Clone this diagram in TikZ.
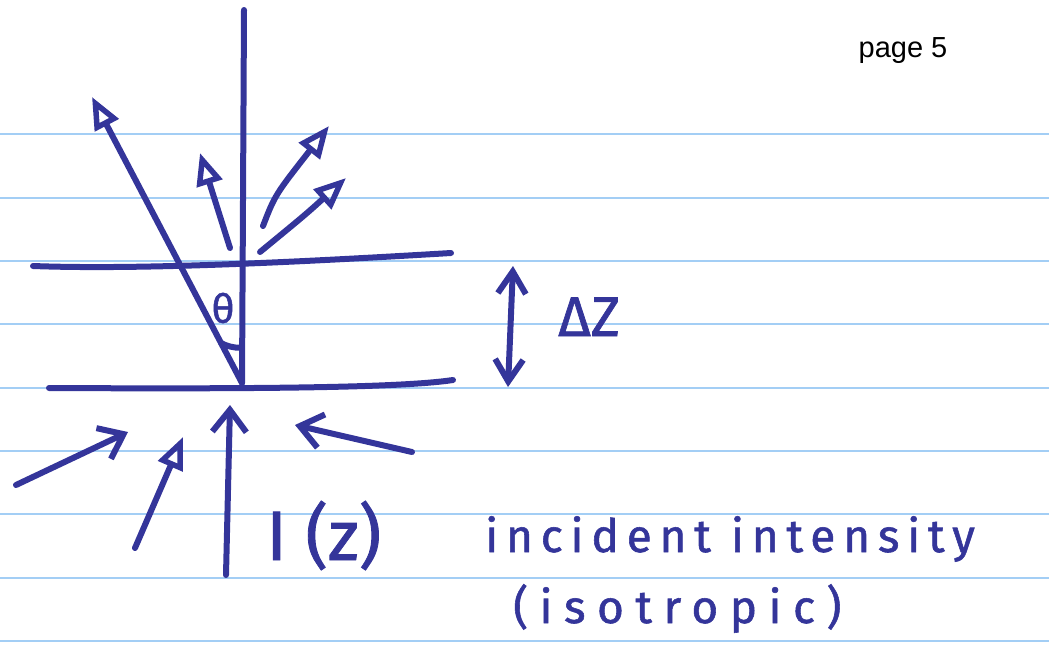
\documentclass[tikz,border=0pt]{standalone}
\usepackage{fontspec}
\setmainfont{Fira Sans}[FakeBold=1.2]
\newfontfamily\typed{Liberation Sans}
\usetikzlibrary{arrows.meta}
\definecolor{ink}{HTML}{34359A}
\definecolor{rule}{HTML}{A3CEF5}
\tikzset{
  ruled/.style={draw=rule, line width=2pt},
  pen/.style={draw=ink, line width=6pt, line cap=round, line join=round},
  ray/.style={pen, -{Triangle[open, length=32pt, width=26pt, line width=5.5pt]}},
  barb/.style={pen, -{Straight Barb[length=22pt, width=34pt]}},
  dbarb/.style={pen, {Straight Barb[length=22pt, width=28pt]}-{Straight Barb[length=22pt, width=28pt]}},
  hand/.style={text=ink, inner sep=0pt},
}
\begin{document}
\begin{tikzpicture}[x=1pt, y=-1pt]
  \useasboundingbox (0,0) rectangle (1049,648);
  % ruled paper
  \foreach \y in {134,198,261,324,388,451,514,578,641}
    \draw[ruled] (0,\y) -- (1049,\y);
  \node[font=\typed\fontsize{29pt}{32pt}\selectfont, anchor=base, inner sep=0pt] (page) at (903,57) {page 5};
  % slab of thickness dz
  \coordinate (O) at (242,383);
  \coordinate (axtop) at (244,10);
  \coordinate (upL) at (33,266);
  \coordinate (upR) at (451,253);
  \coordinate (loL) at (49,388);
  \coordinate (loR) at (453,380);
  \draw[pen] (O) -- (243,200) -- (axtop);
  \draw[pen] (upL) .. controls (140,270) and (300,262) .. (upR);
  \draw[pen] (loL) .. controls (250,389) and (400,388) .. (loR);
  % outgoing rays
  \coordinate (t1) at (92,97);
  \coordinate (s2) at (230,248);
  \coordinate (t2) at (200,153);
  \coordinate (s3) at (263,226);
  \coordinate (t3) at (329,126);
  \coordinate (s4) at (260,252);
  \coordinate (t4) at (346,178);
  \draw[ray] (O) -- (t1);
  \draw[ray] (s2) -- (t2);
  \draw[ray] (s3) .. controls (275,195) .. (t3);
  \draw[ray] (s4) .. controls (305,215) .. (t4);
  % angle
  \draw[pen] (221,343) arc[start angle=118, end angle=90, radius=41];
  \node[hand, font=\fontsize{40pt}{42pt}\selectfont] (theta) at (223,308) {θ};
  % thickness
  \coordinate (dzT) at (513,266);
  \coordinate (dzB) at (508,387);
  \draw[dbarb] (dzB) -- (dzT);
  \node[hand, font=\fontsize{56pt}{60pt}\selectfont, anchor=base west] (dz) at (558,336) {ΔZ};
  % incident rays
  \coordinate (b1s) at (226,575);
  \coordinate (b1t) at (230,405);
  \coordinate (b2s) at (16,485);
  \coordinate (b2t) at (128,432);
  \coordinate (b3s) at (135,548);
  \coordinate (b3t) at (183,437);
  \coordinate (b4s) at (412,452);
  \coordinate (b4t) at (295,425);
  \draw[barb] (b1s) -- (b1t);
  \draw[barb] (b2s) -- (b2t);
  \draw[ray] (b3s) -- (b3t);
  \draw[barb] (b4s) -- (b4t);
  % labels
  \node[hand, font=\fontsize{70pt}{72pt}\selectfont, anchor=base west] (Iz) at (266,560) {I (z)};
  \node[hand, font=\addfontfeature{LetterSpace=17}\fontsize{46pt}{48pt}\selectfont, anchor=base west] (inc) at (485,552) {incident intensity};
  \node[hand, font=\addfontfeature{LetterSpace=25}\fontsize{46pt}{48pt}\selectfont, anchor=base west] (iso) at (513,623) {(isotropic)};
\end{tikzpicture}
\end{document}
